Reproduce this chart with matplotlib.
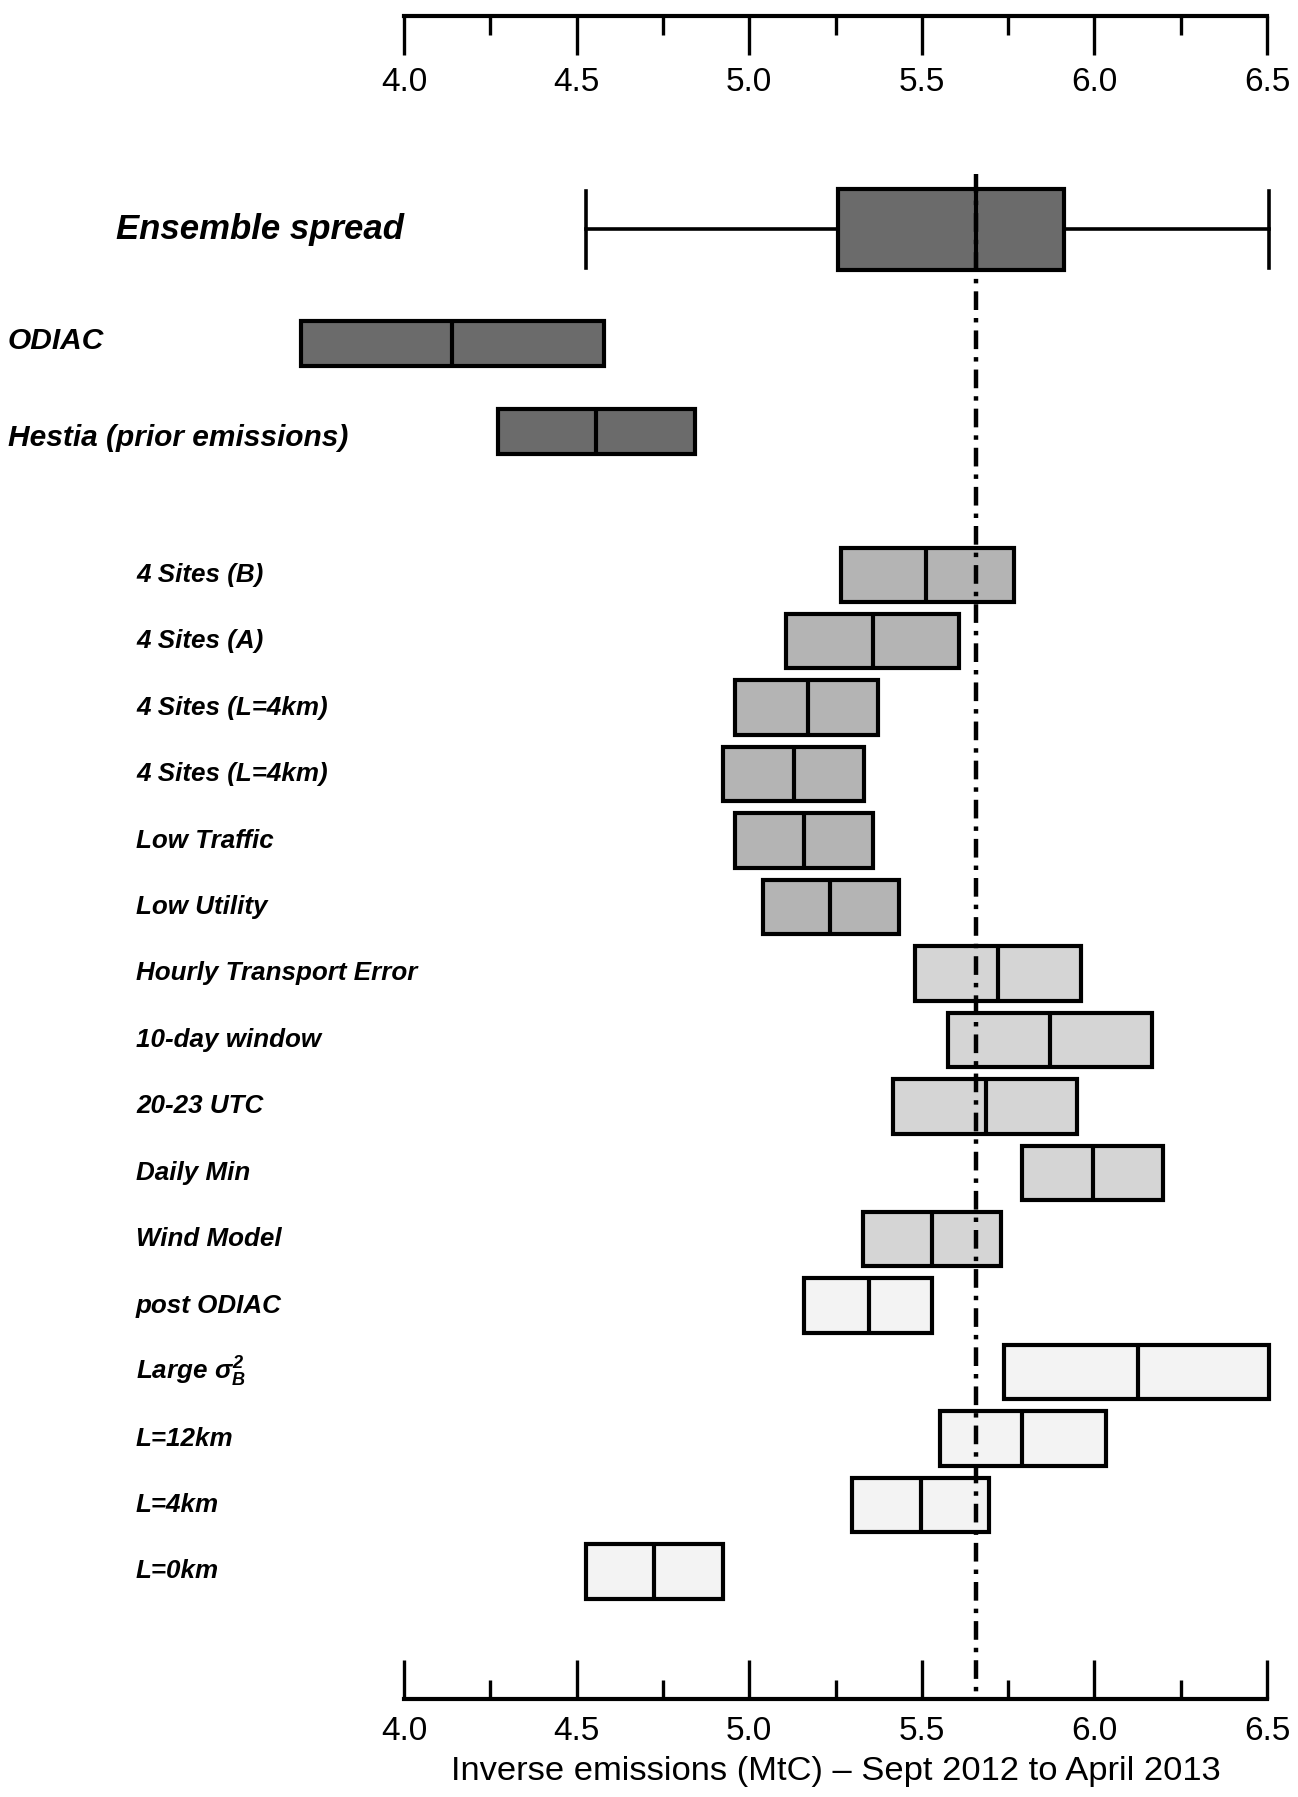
import numpy as np
import matplotlib.pyplot as plt
from matplotlib.patches import Rectangle
from matplotlib.transforms import blended_transform_factory

plt.rcParams['font.family'] = ['Liberation Sans', 'DejaVu Sans']
plt.rcParams['mathtext.fontset'] = 'custom'
plt.rcParams['mathtext.rm'] = 'Liberation Sans:bold:italic'
plt.rcParams['mathtext.it'] = 'Liberation Sans:bold:italic'
plt.rcParams['mathtext.bf'] = 'Liberation Sans:bold:italic'

# ensemble spread (whisker min, q1, median, q3, whisker max)
ens_stats = [4.527, 5.258, 5.656, 5.911, 6.507]
ref_value = 5.656

# prior inventories
prior_names = ['ODIAC', 'Hestia (prior emissions)']
prior_lo = [3.702, 4.272]
prior_mid = [4.139, 4.556]
prior_hi = [4.579, 4.844]

# sensitivity inversions
run_names = ['4 Sites (B)', '4 Sites (A)', '4 Sites (L=4km)', '4 Sites (L=4km)',
             'Low Traffic', 'Low Utility', 'Hourly Transport Error',
             '10-day window', '20-23 UTC', 'Daily Min', 'Wind Model',
             'post ODIAC', r'Large $\sigma^2_B$', 'L=12km', 'L=4km', 'L=0km']
run_lo = [5.265, 5.106, 4.960, 4.924, 4.960, 5.040, 5.480, 5.576, 5.417,
          5.791, 5.331, 5.159, 5.738, 5.553, 5.298, 4.527]
run_mid = [5.513, 5.358, 5.169, 5.129, 5.159, 5.235, 5.722, 5.871, 5.685,
           5.997, 5.530, 5.348, 6.126, 5.791, 5.497, 4.725]
run_hi = [5.768, 5.609, 5.374, 5.334, 5.358, 5.434, 5.960, 6.166, 5.950,
          6.199, 5.728, 5.530, 6.507, 6.033, 5.695, 4.924]
run_group = [0]*6 + [1]*5 + [2]*5
group_colors = ['#b4b4b4', '#d5d5d5', '#f3f3f3']
dark = '#6b6b6b'

# layout (row units, top -> bottom)
y_runs = np.arange(len(run_names))
y_prior = [-3.48, -2.16]
y_prior_lab = [-3.52, -2.06]
y_ens = -5.2
y_top, y_bot = -8.41, 16.92

W, H = 1298, 1797
fig = plt.figure(figsize=(W/100, H/100), dpi=100)
left, right = 404/W, 1267/W
bot_px, top_px = 1699, 16
ax = fig.add_axes([left, 1 - bot_px/H, right - left, (bot_px - top_px)/H])
ax.set_xlim(4.0, 6.5)
ax.set_ylim(y_bot, y_top)
for s in ['left', 'right', 'top']:
    ax.spines[s].set_visible(False)
ax.spines['bottom'].set_linewidth(3.0)
ax.set_yticks([])
ticks = np.arange(4.0, 6.51, 0.5)
ax.set_xticks(ticks)
ax.set_xticks(np.arange(4.25, 6.5, 0.5), minor=True)
ax.set_xticklabels([f'{t:.1f}' for t in ticks])
ax.tick_params(axis='x', which='major', direction='in', length=28, width=2.4,
               labelsize=24, pad=12)
ax.tick_params(axis='x', which='minor', direction='in', length=14, width=2.4)
ax.set_xlabel('Inverse emissions (MtC) \u2013 Sept 2012 to April 2013',
              fontsize=24.8, labelpad=7)

# top ruler
axt = fig.add_axes([left, 1 - top_px/H, right - left, 0.0001])
axt.set_xlim(4.0, 6.5)
for s in ['left', 'right', 'top']:
    axt.spines[s].set_visible(False)
axt.spines['bottom'].set_linewidth(3.0)
axt.patch.set_visible(False)
axt.set_yticks([])
axt.set_xticks(ticks)
axt.set_xticks(np.arange(4.25, 6.5, 0.5), minor=True)
axt.set_xticklabels([f'{t:.1f}' for t in ticks])
axt.tick_params(axis='x', which='major', direction='out', length=28, width=2.4,
                labelsize=24, pad=9)
axt.tick_params(axis='x', which='minor', direction='out', length=14, width=2.4)

lw = 3.0


def box(y, lo, mid, hi, h, fc):
    ax.add_patch(Rectangle((lo, y - h/2), hi - lo, h, facecolor=fc,
                           edgecolor='black', lw=lw, clip_on=False, zorder=2))
    ax.plot([mid, mid], [y - h/2, y + h/2], color='black', lw=lw,
            clip_on=False, zorder=3, solid_capstyle='butt')


# reference line
ax.plot([ref_value, ref_value], [-6.03, y_bot], color='black', lw=3.2,
        dashes=(4.2, 1.8, 1.0, 1.8), zorder=4, clip_on=False)

# ensemble spread
wmin, q1, med, q3, wmax = ens_stats
hb = 1.22
ax.plot([wmin, q1], [y_ens, y_ens], color='black', lw=2.6, clip_on=False)
ax.plot([q3, wmax], [y_ens, y_ens], color='black', lw=2.6, clip_on=False)
for xw in [wmin, wmax]:
    ax.plot([xw, xw], [y_ens - 0.58, y_ens + 0.58], color='black', lw=2.6,
            clip_on=False)
box(y_ens, q1, med, q3, hb, dark)

for y, lo, mid, hi in zip(y_prior, prior_lo, prior_mid, prior_hi):
    box(y, lo, mid, hi, 0.68, dark)

for y, lo, mid, hi, g in zip(y_runs, run_lo, run_mid, run_hi, run_group):
    box(y, lo, mid, hi, 0.82, group_colors[g])

# labels
tr = blended_transform_factory(fig.transFigure, ax.transData)
ax.text(260/W, y_ens, 'Ensemble spread', transform=tr, ha='center',
        va='center', fontsize=25, fontweight='bold', fontstyle='italic')
for y, name in zip(y_prior_lab, prior_names):
    ax.text(8/W, y, name, transform=tr, ha='left', va='center', fontsize=21.5,
            fontweight='bold', fontstyle='italic')
for y, name in zip(y_runs, run_names):
    ax.text(136/W, y, name, transform=tr, ha='left', va='center',
            fontsize=18.7, fontweight='bold', fontstyle='italic')

fig.savefig('out.png', dpi=100)
